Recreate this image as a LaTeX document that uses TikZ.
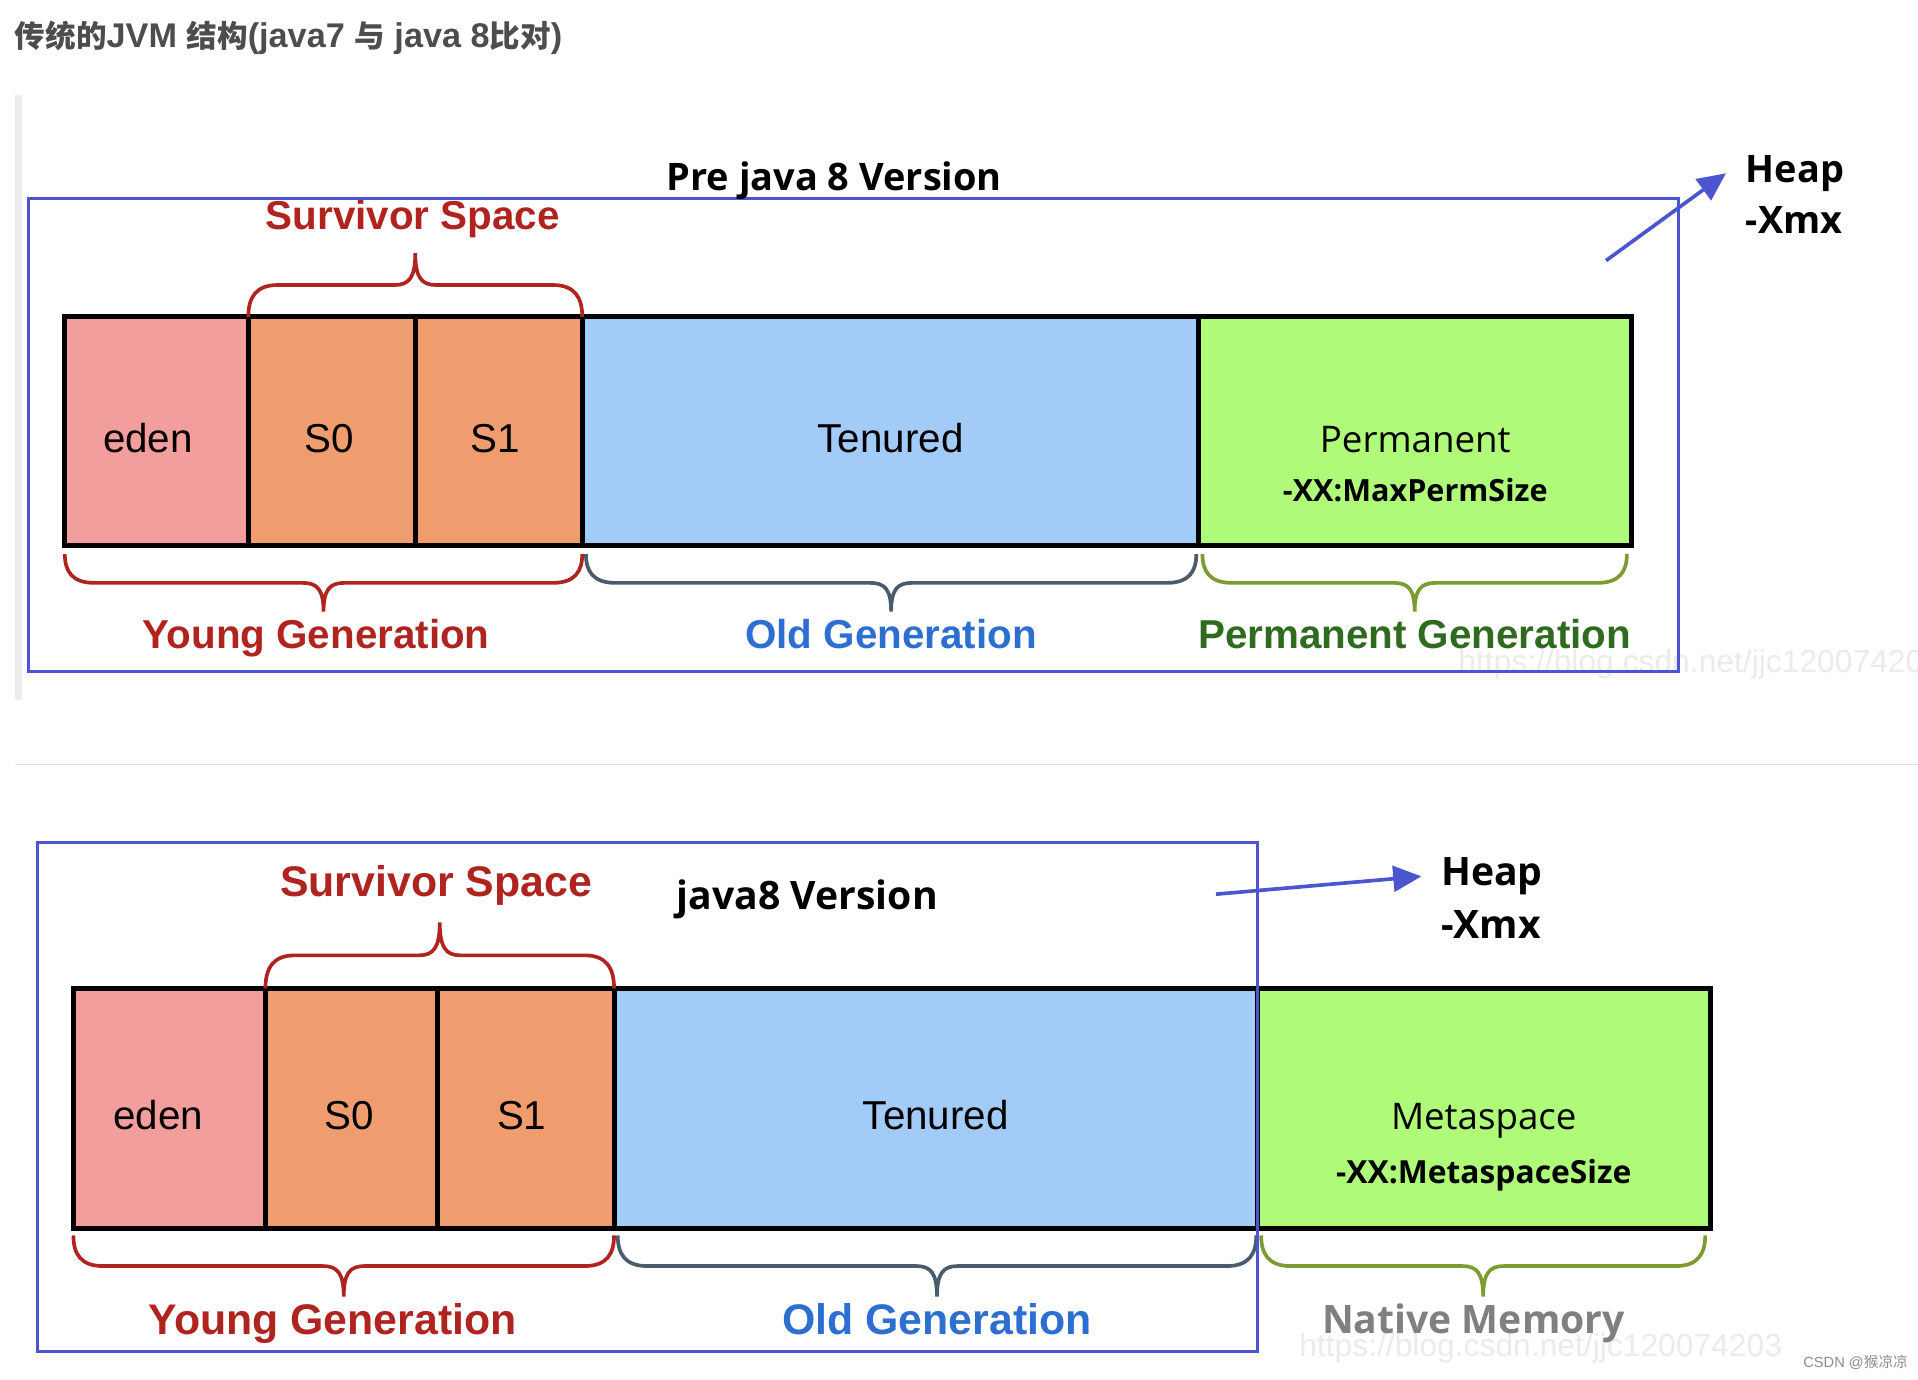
\documentclass[tikz,border=0pt]{standalone}
\usepackage{fontspec}
\setmainfont{Liberation Sans}
\newfontfamily\segoe{Open Sans}
\newfontfamily\cjk{Noto Sans CJK SC}
\usetikzlibrary{positioning, decorations, arrows.meta}

\definecolor{edenred}{HTML}{F19E9C}
\definecolor{survorange}{HTML}{EF9D6E}
\definecolor{tenblue}{HTML}{A2CBF8}
\definecolor{permgreen}{HTML}{AFFA79}
\definecolor{heapblue}{HTML}{4B55CF}
\definecolor{youngred}{HTML}{B0241F}
\definecolor{oldblue}{HTML}{2C6FD1}
\definecolor{oldslate}{HTML}{485C6C}
\definecolor{permbrace}{HTML}{7C9B30}
\definecolor{permtext}{HTML}{2F6B1E}
\definecolor{titlegray}{HTML}{4D4D4D}
\definecolor{nativegray}{HTML}{808080}

\newcommand\zhtxt[1]{{\cjk\fontsize{25}{30}\selectfont#1}}

% curly brace with short curls
\pgfdeclaredecoration{genbrace}{initial}{%
  \state{initial}[width=+\pgfdecoratedremainingdistance, next state=final]{%
    \pgfmathsetlengthmacro\gbh{0.5*\pgfdecoratedremainingdistance}%
    \pgfmathsetlengthmacro\gba{\pgfdecorationsegmentamplitude}%
    \pgfpathmoveto{\pgfpointorigin}%
    \pgfpathcurveto{\pgfpoint{0pt}{0.3*\gba}}{\pgfpoint{6pt}{0.5*\gba}}{\pgfpoint{24pt}{0.5*\gba}}%
    \pgfpathlineto{\pgfpoint{\gbh-17pt}{0.5*\gba}}%
    \pgfpathcurveto{\pgfpoint{\gbh-5pt}{0.5*\gba}}{\pgfpoint{\gbh}{0.62*\gba}}{\pgfpoint{\gbh}{\gba}}%
    \pgfpathcurveto{\pgfpoint{\gbh}{0.62*\gba}}{\pgfpoint{\gbh+5pt}{0.5*\gba}}{\pgfpoint{\gbh+17pt}{0.5*\gba}}%
    \pgfpathlineto{\pgfpoint{2*\gbh-24pt}{0.5*\gba}}%
    \pgfpathcurveto{\pgfpoint{2*\gbh-6pt}{0.5*\gba}}{\pgfpoint{2*\gbh}{0.3*\gba}}{\pgfpoint{2*\gbh}{0pt}}%
  }%
  \state{final}{}%
}

\begin{document}
\begin{tikzpicture}[x=1pt, y=-1pt, node distance=0pt,
    cell/.style={draw, line width=4pt, outer sep=0pt, inner sep=0pt, minimum height=187pt, text height=35pt, text depth=0pt, font=\fontsize{33}{36}\selectfont},
    low/.style={minimum height=196pt},
    meta/.style={font=\segoe\fontsize{30}{36}\selectfont},
    sub/.style={font=\segoe\bfseries\fontsize{25}{30}\selectfont},
    brup/.style={decorate, decoration={genbrace, amplitude=52pt}, line width=3pt},
    brdn/.style={decorate, decoration={genbrace, mirror, amplitude=47pt}, line width=3pt},
    surv/.style={font=\bfseries\fontsize{33}{36}\selectfont},
    gen/.style={font=\bfseries\fontsize{33}{36}\selectfont},
    gen2/.style={font=\bfseries\fontsize{35}{38}\selectfont},
    ver/.style={font=\segoe\bfseries\fontsize{31}{36}\selectfont},
    frame/.style={draw=heapblue, line width=2.5pt},
    arr/.style={draw=heapblue, line width=3pt, -{Triangle[length=23pt, width=21pt]}},
    heap/.style={anchor=base west, inner xsep=16pt, inner ysep=0pt, font=\segoe\bfseries\fontsize{31}{36}\selectfont},
    wm/.style={text=black!8, anchor=west, inner sep=0pt, font=\fontsize{26}{28}\selectfont}]
  \useasboundingbox (0,0) rectangle (1568,1128);

  \node[anchor=west, inner sep=0pt, text=titlegray, font=\bfseries\fontsize{28}{30}\selectfont] (title) at (12,31)
    {\zhtxt{传统的}JVM \zhtxt{结构}(java7 \zhtxt{与} java 8\zhtxt{比对})};
  \fill[black!7] (12,78) rectangle (18,572);
  \draw[black!13, line width=1pt] (12,625) -- (1568,625);

  % pre java 8
  \node[wm] (wm1) at (1192,543) {https://blog.csdn.net/jjc120074203};
  \node[cell, fill=edenred, minimum width=150pt, anchor=north west] (eden1) at (53,259) {\hspace*{-14pt}eden};
  \node[cell, fill=survorange, minimum width=137pt, right=of eden1] (s01) {\hspace*{-5pt}S0};
  \node[cell, fill=survorange, minimum width=136pt, right=of s01] (s11) {\hspace*{-6pt}S1};
  \node[cell, fill=tenblue, minimum width=504pt, right=of s11] (ten1) {Tenured};
  \node[cell, meta, fill=permgreen, minimum width=354pt, right=of ten1] (perm1) {Permanent};
  \node[sub, below=40pt of perm1.base, anchor=base] (permsz1) {-XX:MaxPermSize};

  \draw[brup, youngred] (s01.north west) -- node[above=60pt, xshift=-2pt, surv] {Survivor Space} (s11.north east);
  \draw[brdn, youngred] ([yshift=-7pt]eden1.south west) -- node[below=48pt, xshift=-6pt, gen] {Young Generation} ([yshift=-7pt]s11.south east);
  \draw[brdn, oldslate] ([xshift=3pt, yshift=-7pt]ten1.south west) -- node[below=48pt, gen, text=oldblue] {Old Generation} ([xshift=-2pt, yshift=-7pt]ten1.south east);
  \draw[brdn, permbrace] ([xshift=3pt, yshift=-7pt]perm1.south west) -- node[below=48pt, gen, text=permtext] {Permanent Generation} ([xshift=-4pt, yshift=-7pt]perm1.south east);

  \draw[frame] (23,162) rectangle (1372,549);
  \node[ver] (pre) at (682,148) {Pre java 8 Version};
  \coordinate (hs1) at (1313,213);
  \node[heap] (heap1) at (1411,149) {Heap};
  \node[heap, below=41.6pt of heap1.base west, anchor=base west] (xmx1) {-Xmx};
  \draw[arr] (hs1) -- (heap1.west);

  % java 8
  \node[wm] (wm2) at (1062,1102) {https://blog.csdn.net/jjc120074203};
  \node[cell, low, fill=edenred, minimum width=157pt, anchor=north west] (eden2) at (60,808) {\hspace*{-18pt}eden};
  \node[cell, low, fill=survorange, minimum width=141pt, right=of eden2] (s02) {\hspace*{-4pt}S0};
  \node[cell, low, fill=survorange, minimum width=144pt, right=of s02] (s12) {\hspace*{-7pt}S1};
  \node[cell, low, fill=tenblue, minimum width=526pt, right=of s12] (ten2) {Tenured};
  \node[cell, low, meta, fill=permgreen, minimum width=370pt, right=of ten2] (meta2) {Metaspace};
  \node[sub, below=44pt of meta2.base, anchor=base, font=\segoe\bfseries\fontsize{26}{30}\selectfont] (metasz2) {-XX:MetaspaceSize};

  \draw[brup, youngred, decoration={amplitude=54pt}] (s02.north west) -- node[above=63pt, xshift=-3pt, gen2] {Survivor Space} (s12.north east);
  \draw[brdn, youngred, decoration={amplitude=50pt}] ([yshift=-6pt]eden2.south west) -- node[below=51pt, xshift=-9pt, gen2] {Young Generation} ([yshift=-6pt]s12.south east);
  \draw[brdn, oldslate, decoration={amplitude=50pt}] ([xshift=3pt, yshift=-6pt]ten2.south west) -- node[below=51pt, gen2, text=oldblue] {Old Generation} ([xshift=-1pt, yshift=-6pt]ten2.south east);
  \draw[brdn, permbrace, decoration={amplitude=50pt}] ([xshift=3pt, yshift=-6pt]meta2.south west) -- node[below=51pt, xshift=-8pt, ver, font=\segoe\bfseries\fontsize{32}{36}\selectfont, text=nativegray] {Native Memory} ([xshift=-4pt, yshift=-6pt]meta2.south east);

  \draw[frame] (31,689) rectangle (1028,1105);
  \node[ver, font=\segoe\bfseries\fontsize{32}{36}\selectfont] (j8) at (660,735) {java8 Version};
  \coordinate (hs2) at (994,731);
  \node[heap, font=\segoe\bfseries\fontsize{32}{36}\selectfont] (heap2) at (1162,724) {Heap};
  \node[heap, font=\segoe\bfseries\fontsize{32}{36}\selectfont, below=43pt of heap2.base west, anchor=base west] (xmx2) {-Xmx};
  \draw[arr] (hs2) -- (heap2.west);

  \node[anchor=west, inner sep=0pt, text=black!45, font=\fontsize{12}{14}\selectfont] (csdn) at (1474,1114) {CSDN @{\cjk 猴凉凉}};
\end{tikzpicture}
\end{document}
